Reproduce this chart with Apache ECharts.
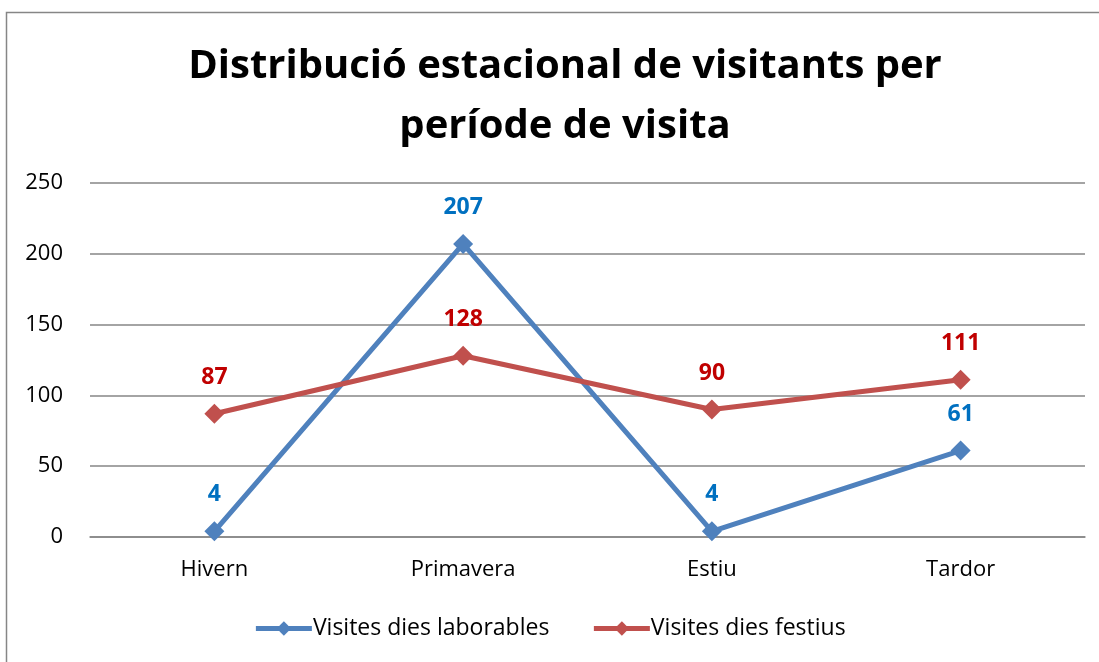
<!DOCTYPE html>
<html>
<head>
<meta charset="utf-8">
<script src="https://cdn.jsdelivr.net/npm/echarts@6/dist/echarts.min.js"></script>
<style>
  html, body { margin: 0; padding: 0; background: #fff; }
  #chart { width: 1099px; height: 662px; }
</style>
</head>
<body>
<div id="chart"></div>
<script>
// dades
var categories = ['Hivern', 'Primavera', 'Estiu', 'Tardor'];
var laborables = [4, 207, 4, 61];
var festius = [87, 128, 90, 111];
var yTicks = [0, 50, 100, 150, 200, 250];

var fontFam = '"Open Sans", "Liberation Sans", sans-serif';

var myChart = echarts.init(document.getElementById('chart'));

function lineSeries(name, data, color, labelColor) {
    return {
        name: name,
        type: 'line',
        data: data,
        symbol: 'diamond',
        symbolSize: 20,
        lineStyle: { width: 5, color: color },
        itemStyle: { color: color },
        label: {
            show: true,
            position: 'top',
            distance: 15,
            color: labelColor,
            fontWeight: 'bold',
            fontSize: 23,
            fontFamily: fontFam
        },
        emphasis: { disabled: true },
        animation: false
    };
}

var option = {
    backgroundColor: '#fff',
    animation: false,
    graphic: [{
        type: 'rect',
        shape: { x: 6.5, y: 12.5, width: 1200, height: 700 },
        style: { fill: 'none', stroke: '#868686', lineWidth: 1.5 },
        silent: true
    }],
    title: {
        text: 'Distribució estacional de visitants per\nperíode de visita',
        left: 560,
        textAlign: 'center',
        top: 32,
        textStyle: {
            fontFamily: fontFam,
            fontWeight: 'bold',
            fontSize: 40,
            lineHeight: 60,
            color: '#000'
        }
    },
    legend: {
        bottom: 17,
        left: 'center',
        itemWidth: 56,
        itemHeight: 18,
        itemGap: 42,
        textStyle: { fontFamily: fontFam, fontSize: 23, color: '#000', padding: [0, 0, 0, -4] },
        data: [
            { name: 'Visites dies laborables', lineStyle: { width: 5 } },
            { name: 'Visites dies festius', lineStyle: { width: 5 } }
        ]
    },
    grid: { left: 90, right: 14, top: 183, bottom: 125, containLabel: false },
    xAxis: {
        type: 'category',
        data: categories,
        axisLine: { lineStyle: { color: '#868686', width: 1.5 } },
        axisTick: { show: false },
        axisLabel: { margin: 22, fontFamily: fontFam, fontSize: 22, color: '#000' }
    },
    yAxis: {
        type: 'value',
        min: yTicks[0],
        max: yTicks[yTicks.length - 1],
        interval: 50,
        axisLine: { show: false },
        axisTick: { show: false },
        axisLabel: { margin: 27, fontFamily: fontFam, fontSize: 22, color: '#000' },
        splitLine: { lineStyle: { color: '#868686', width: 1.5 } }
    },
    series: [
        lineSeries('Visites dies laborables', laborables, '#4F81BD', '#0070C0'),
        lineSeries('Visites dies festius', festius, '#C0504D', '#C00000')
    ]
};

myChart.setOption(option);
</script>
</body>
</html>
